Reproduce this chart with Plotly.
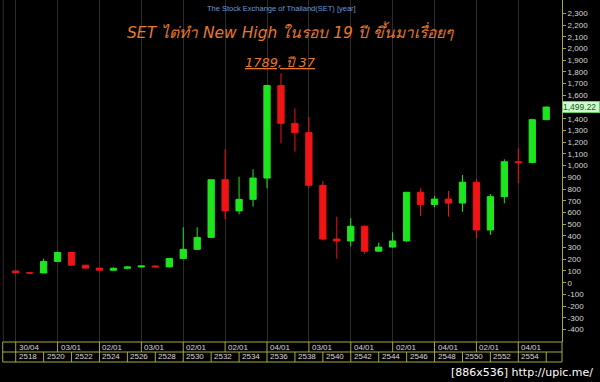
import plotly.graph_objects as go

# ---------------- data ----------------
YEARS = list(range(2518, 2557))
OPEN = [100, 84.1, 82.6, 181.7, 257.8, 149.4, 124.7, 106.6, 123.5, 134.5,
        142.3, 135.0, 207.2, 284.9, 386.7, 879.2, 612.9, 711.4, 893.4, 1682.9,
        1360.1, 1280.8, 831.6, 372.7, 355.8, 481.9, 269.2, 303.9, 356.5, 772.2,
        668.1, 713.7, 679.8, 858.1, 450.0, 734.5, 1032.8, 1025.3, 1391.9]
HIGH = [102, 88, 205, 265, 262, 152, 127, 130, 140, 146,
        146, 210, 473, 473, 880, 1139, 905, 968, 1690, 1789,
        1489, 1415, 868, 564, 550, 490, 342, 430, 772, 806,
        740, 783, 919, 885, 757, 1053, 1147, 1400, 1506]
LOW = [82, 76, 80, 178, 145, 120, 100, 100, 118, 130,
       128, 130, 200, 280, 380, 541, 584, 649, 806, 1190,
       1119, 806, 360, 205, 310, 245, 265, 300, 350, 569,
       644, 564, 606, 379, 407, 678, 848, 1020, 1388]
CLOSE = [84.1, 82.6, 181.7, 257.8, 149.4, 124.7, 106.6, 123.5, 134.5, 142.3,
         135.0, 207.2, 284.9, 386.7, 879.2, 612.9, 711.4, 893.4, 1682.9, 1360.1,
         1280.8, 831.6, 372.7, 355.8, 481.9, 269.2, 303.9, 356.5, 772.2, 668.1,
         713.7, 679.8, 858.1, 450.0, 734.5, 1032.8, 1025.3, 1391.9, 1499.22]

TOP_ROW_YEARS = [2518, 2521, 2524, 2527, 2530, 2533, 2536, 2539, 2542, 2545, 2548, 2551, 2554]
TOP_ROW_LABELS = ["30/04", "03/01", "02/01", "03/01", "02/01", "02/01", "04/01",
                  "03/01", "04/01", "02/01", "04/01", "02/01", "04/01"]
BOTTOM_ROW_YEARS = list(range(2518, 2557, 2))
BOTTOM_ROW_LABELS = [str(y) for y in range(2518, 2555, 2)] + [""]

Y_TICKS = list(range(-400, 2301, 100))
Y_TICK_TEXT = [f"{v:,}" if v >= 0 else f"-{abs(v):,}" for v in Y_TICKS]

LAST_PRICE = 1499.22
SOURCE_TITLE = "The Stock Exchange of Thailand(SET) [year]"
HEADLINE = "SET ไต่ทำ New High ในรอบ 19 ปี ขึ้นมาเรื่อยๆ"
PEAK_LABEL = "1789, ปี 37"
PEAK_INDEX = 19
WATERMARK = "[886x536] http://upic.me/"

# ---------------- styling ----------------
GREEN = "#1ee61e"
RED = "#f01414"
YELLOW = "#a8a83a"
GRID = "#2c2c2c"
ORANGE = "#e8782a"

W, H = 600, 382
M_L, M_R, M_T, M_B = 0, 38, 0, 40
PLOT_H = H - M_T - M_B
ROW_H = 10 / PLOT_H

fig = go.Figure()
fig.add_trace(go.Candlestick(
    x=YEARS, open=OPEN, high=HIGH, low=LOW, close=CLOSE,
    increasing=dict(line=dict(color=GREEN, width=1), fillcolor=GREEN),
    decreasing=dict(line=dict(color=RED, width=1), fillcolor=RED),
    hoverinfo="skip", showlegend=False,
))

shapes = []
shapes.append(dict(type="line", xref="paper", yref="paper", x0=3.3 / 562, x1=3.3 / 562,
                   y0=0, y1=1, line=dict(color=GRID, width=1)))
for k in range(3):
    yy = -k * ROW_H
    shapes.append(dict(type="line", xref="paper", yref="paper", x0=2.7 / 562, x1=1,
                       y0=yy, y1=yy, line=dict(color=YELLOW, width=1)))
for xp in [2.7 / 562, 1]:
    shapes.append(dict(type="line", xref="paper", yref="paper", x0=xp, x1=xp,
                       y0=0, y1=-2 * ROW_H, line=dict(color=YELLOW, width=1)))
for yr in TOP_ROW_YEARS:
    shapes.append(dict(type="line", xref="x", yref="paper", x0=yr, x1=yr,
                       y0=0, y1=-ROW_H, line=dict(color=YELLOW, width=1)))
for yr in BOTTOM_ROW_YEARS:
    shapes.append(dict(type="line", xref="x", yref="paper", x0=yr, x1=yr,
                       y0=-ROW_H, y1=-2 * ROW_H, line=dict(color=YELLOW, width=1)))

annotations = []
for yr, lab in zip(TOP_ROW_YEARS, TOP_ROW_LABELS):
    annotations.append(dict(x=yr, y=-0.5 * ROW_H, xref="x", yref="paper", text=lab,
                            xanchor="left", yanchor="middle", xshift=1, showarrow=False,
                            font=dict(family="Liberation Sans, Arial", size=8, color="#d8d8d8")))
for yr, lab in zip(BOTTOM_ROW_YEARS, BOTTOM_ROW_LABELS):
    annotations.append(dict(x=yr, y=-1.5 * ROW_H, xref="x", yref="paper", text=lab,
                            xanchor="left", yanchor="middle", xshift=1, showarrow=False,
                            font=dict(family="Liberation Sans, Arial", size=8, color="#d8d8d8")))

annotations.append(dict(x=281 / 562, y=1, xref="paper", yref="paper", text=SOURCE_TITLE,
                        xanchor="center", yanchor="top", yshift=-2, showarrow=False,
                        font=dict(family="Liberation Sans, Arial", size=7.5, color="#6a9ad8")))
annotations.append(dict(x=290 / 562, y=1, xref="paper", yref="paper",
                        text="<i>" + HEADLINE + "</i>",
                        xanchor="center", yanchor="middle", yshift=-31, showarrow=False,
                        font=dict(family="Tahoma, DejaVu Sans, sans-serif", size=15.5, color=ORANGE)))
annotations.append(dict(x=YEARS[PEAK_INDEX], y=HIGH[PEAK_INDEX], xref="x", yref="y",
                        text="<i><span style='text-decoration:underline'>" + PEAK_LABEL + "</span></i>",
                        xanchor="center", yanchor="bottom", yshift=1, showarrow=False,
                        font=dict(family="Tahoma, DejaVu Sans, sans-serif", size=13, color=ORANGE)))
annotations.append(dict(x=1, y=LAST_PRICE, xref="paper", yref="y",
                        text=f"{LAST_PRICE:,.2f}",
                        xanchor="left", yanchor="middle", showarrow=False,
                        bgcolor="#ccffcc", bordercolor="#66cc66", borderwidth=1, borderpad=0,
                        width=36, align="left",
                        font=dict(family="Liberation Sans, Arial", size=8.5, color="#225522")))
annotations.append(dict(x=1, y=-(372 - PLOT_H) / PLOT_H, xref="paper", yref="paper", text=WATERMARK,
                        xanchor="right", yanchor="middle", xshift=33, showarrow=False,
                        font=dict(family="DejaVu Sans, sans-serif", size=11, color="#ffffff")))

fig.update_layout(
    width=W, height=H,
    margin=dict(l=M_L, r=M_R, t=M_T, b=M_B, pad=0),
    paper_bgcolor="black", plot_bgcolor="black",
    boxgap=0.55, boxgroupgap=0,
    shapes=shapes, annotations=annotations,
    showlegend=False,
    xaxis=dict(range=[2516.875, 2557.13], rangeslider=dict(visible=False),
               tickvals=TOP_ROW_YEARS, showticklabels=False, ticks="",
               showgrid=True, gridcolor=GRID, gridwidth=1, zeroline=False,
               showline=False, fixedrange=True),
    yaxis=dict(range=[-506.3, 2413.6], side="right", tickvals=Y_TICKS, ticktext=Y_TICK_TEXT,
               showgrid=False, zeroline=False, showline=True, linecolor=YELLOW, linewidth=1,
               ticks="outside", ticklen=3, tickcolor=YELLOW,
               tickfont=dict(family="Liberation Sans, Arial", size=8, color="#d8d8d8"),
               fixedrange=True),
)

fig.write_html("out.html")
